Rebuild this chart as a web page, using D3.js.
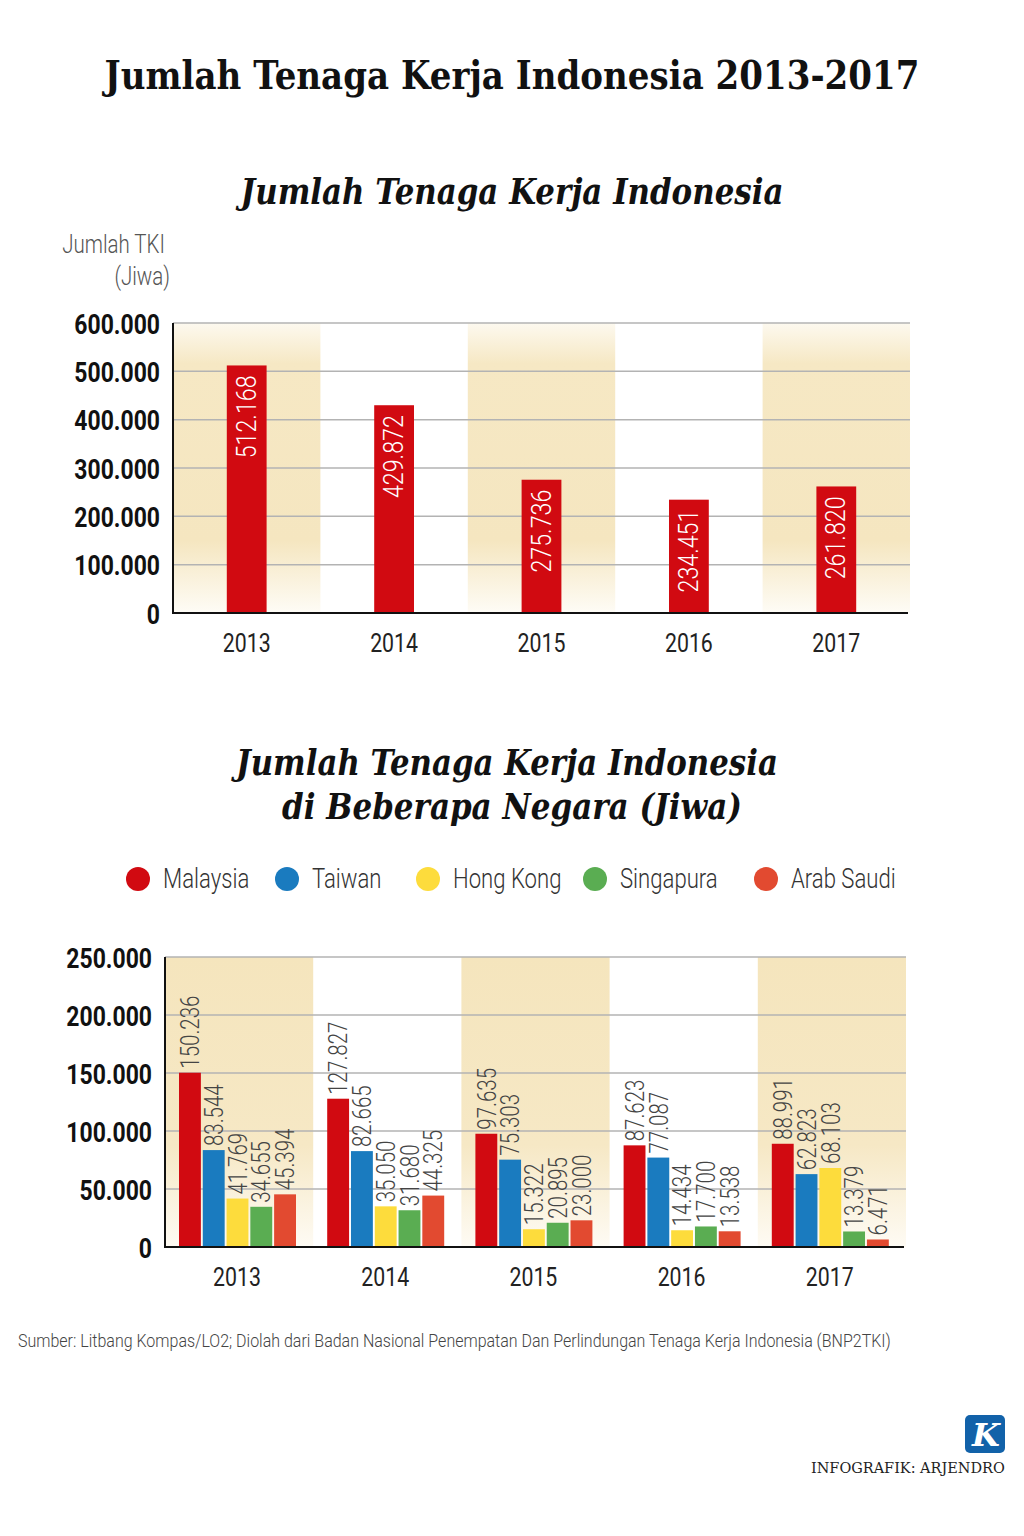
<!DOCTYPE html>
<html><head><meta charset="utf-8">
<script src="https://cdn.jsdelivr.net/npm/d3@7"></script>
<style>
html,body{margin:0;padding:0;background:#fff;}
svg{display:block;}
</style></head>
<body>
<svg id="chart" width="1024" height="1536" font-family="Roboto, 'Noto Sans', sans-serif"></svg>
<script>
// ---------- data ----------
const years = ["2013","2014","2015","2016","2017"];
const totalTKI = [512168, 429872, 275736, 234451, 261820];
const totalTicks = [0,100000,200000,300000,400000,500000,600000];

const countries = ["Malaysia","Taiwan","Hong Kong","Singapura","Arab Saudi"];
const malaysia  = [150236,127827,97635,87623,88991];
const taiwan    = [83544,82665,75303,77087,62823];
const hongKong  = [41769,35050,15322,14434,68103];
const singapura = [34655,31680,20895,17700,13379];
const arabSaudi = [45394,44325,23000,13538,6471];
const countryTicks = [0,50000,100000,150000,200000,250000];
const countryColors = ["#d10a11","#1a7bbf","#fddc3c","#5aad52","#e24a30"];

const title = "Jumlah Tenaga Kerja Indonesia 2013-2017";
const subtitle1 = "Jumlah Tenaga Kerja Indonesia";
const subtitle2a = "Jumlah Tenaga Kerja Indonesia";
const subtitle2b = "di Beberapa Negara (Jiwa)";
const source = "Sumber: Litbang Kompas/LO2; Diolah dari Badan Nasional Penempatan Dan Perlindungan Tenaga Kerja Indonesia (BNP2TKI)";
const credit = "INFOGRAFIK: ARJENDRO";

const seriesByCountry = [malaysia, taiwan, hongKong, singapura, arabSaudi];

// ---------- helpers ----------
const loc = d3.formatLocale({decimal:",", thousands:".", grouping:[3], currency:["",""]});
const fmt = loc.format(",d");
const SX = 0.82; // horizontal condense factor
const SERIF = "'DejaVu Serif', 'Liberation Serif', serif";
const svg = d3.select("#chart");
const defs = svg.append("defs");

function gradient(id, stops){
  const g = defs.append("linearGradient").attr("id",id).attr("x1",0).attr("y1",0).attr("x2",0).attr("y2",1);
  stops.forEach(s=>g.append("stop").attr("offset",s[0]).attr("stop-color",s[1]));
}
gradient("bandTop",[["0%","#fdf9ef"],["14%","#f6e8c4"],["75%","#f5e6c0"],["100%","#fefcf6"]]);
gradient("bandBot",[["0%","#f5e5bd"],["65%","#f6e8c5"],["100%","#fefbf4"]]);

function ctext(parent, x, y, str, opts){
  const g = parent.append("g").attr("transform",`translate(${x},${y})${opts.rotate?` rotate(${opts.rotate})`:""} scale(${opts.sx||SX},1)`);
  return g.append("text").attr("x",0).attr("y",0)
    .attr("text-anchor",opts.anchor||"start")
    .attr("font-size",opts.size||22)
    .attr("font-weight",opts.weight||400)
    .attr("fill",opts.fill||"#222")
    .attr("dominant-baseline",opts.baseline||"auto")
    .text(str);
}
// text scaled horizontally to a target width
function fitText(x, y, str, width, o){
  const g = svg.append("g");
  const t = g.append("text").attr("x",0).attr("y",0).attr("text-anchor",o.anchor||"middle")
    .style("font-family",o.family||null).attr("font-weight",o.weight||400)
    .attr("font-style",o.italic?"italic":"normal").attr("font-size",o.size)
    .attr("fill",o.fill||"#111").text(str);
  const w = t.node().getComputedTextLength();
  g.attr("transform",`translate(${x},${y}) scale(${width/w},1)`);
  return t;
}

// ---------- titles ----------
fitText(512,89,title,815,{family:SERIF,weight:700,size:40});
fitText(512,204,subtitle1,543,{family:SERIF,weight:700,size:36,italic:true});
fitText(507,775,subtitle2a,542,{family:SERIF,weight:700,size:36,italic:true});
fitText(512,819,subtitle2b,460,{family:SERIF,weight:700,size:36,italic:true});

// ---------- top chart ----------
const T = {left:173, right:910, top:323, bottom:613};
const xT = d3.scaleBand().domain(years).range([T.left,T.right]);
const xTbar = d3.scaleBand().domain(years).range([T.left,T.right]).paddingInner(0.73).paddingOuter(0.365);
const yT = d3.scaleLinear().domain([0,600000]).range([T.bottom,T.top]);

const gT = svg.append("g");
gT.selectAll("rect.band").data(years.filter((d,i)=>i%2===0)).join("rect")
  .attr("x",d=>xT(d)).attr("y",T.top).attr("width",xT.bandwidth()).attr("height",T.bottom-T.top)
  .attr("fill","url(#bandTop)");
gT.selectAll("line.grid").data(totalTicks.slice(1)).join("line")
  .attr("x1",T.left).attr("x2",T.right).attr("y1",d=>yT(d)).attr("y2",d=>yT(d))
  .attr("stroke","#b3b3b3").attr("stroke-width",1.5);

gT.selectAll("rect.bar").data(years).join("rect")
  .attr("x",d=>xTbar(d)).attr("width",xTbar.bandwidth())
  .attr("y",(d,i)=>yT(totalTKI[i])).attr("height",(d,i)=>T.bottom-yT(totalTKI[i]))
  .attr("fill","#d10a11");

years.forEach((d,i)=>{
  ctext(gT, xTbar(d)+xTbar.bandwidth()/2, yT(totalTKI[i])+10, fmt(totalTKI[i]),
    {rotate:-90, anchor:"end", size:27, weight:300, fill:"#fff", baseline:"central", sx:0.86});
});

// axes
const axTL = gT.append("g").attr("transform",`translate(${T.left},0)`)
  .call(d3.axisLeft(yT).tickValues(totalTicks).tickFormat(fmt).tickSize(0).tickPadding(0));
axTL.select(".domain").remove();
axTL.selectAll("text").attr("font-size",28).attr("font-weight",700).attr("fill","#111")
  .attr("font-family","Roboto, sans-serif")
  .attr("x",-13/SX).attr("dy","0.36em").attr("transform",`scale(${SX},1)`);
gT.append("line").attr("x1",T.left).attr("x2",T.left).attr("y1",T.top).attr("y2",T.bottom+1).attr("stroke","#111").attr("stroke-width",2);
gT.append("line").attr("x1",T.left-1).attr("x2",908).attr("y1",T.bottom).attr("y2",T.bottom).attr("stroke","#111").attr("stroke-width",2);

years.forEach(d=>{
  ctext(gT, xT(d)+xT.bandwidth()/2, 652, d, {anchor:"middle", size:26, weight:400, fill:"#222"});
});

// y-axis title
ctext(svg, 165, 253, "Jumlah TKI", {anchor:"end", size:25, weight:300, fill:"#555"});
ctext(svg, 170, 285, "(Jiwa)", {anchor:"end", size:25, weight:300, fill:"#555"});

// ---------- legend ----------
const legendX = [138, 287, 428, 595, 766];
const gL = svg.append("g");
countries.forEach((c,i)=>{
  gL.append("circle").attr("cx",legendX[i]).attr("cy",879).attr("r",12).attr("fill",countryColors[i]);
  ctext(gL, legendX[i]+25, 888, c, {size:27, weight:300, fill:"#333"});
});

// ---------- bottom chart ----------
const B = {left:165, right:906, top:957, bottom:1247};
const xB = d3.scaleBand().domain(years).range([B.left,B.right]);
const xS = d3.scaleBand().domain(countries).range([14,131]).paddingInner(0.08);
const yB = d3.scaleLinear().domain([0,250000]).range([B.bottom,B.top]);

const gB = svg.append("g");
gB.selectAll("rect.band").data(years.filter((d,i)=>i%2===0)).join("rect")
  .attr("x",d=>xB(d)).attr("y",B.top).attr("width",xB.bandwidth()).attr("height",B.bottom-B.top)
  .attr("fill","url(#bandBot)");
gB.selectAll("line.grid").data(countryTicks.slice(1)).join("line")
  .attr("x1",B.left).attr("x2",B.right).attr("y1",d=>yB(d)).attr("y2",d=>yB(d))
  .attr("stroke","#b3b3b3").attr("stroke-width",1.5);

years.forEach((yr,yi)=>{
  const g = gB.append("g").attr("transform",`translate(${xB(yr)},0)`);
  countries.forEach((c,ci)=>{
    const v = seriesByCountry[ci][yi];
    g.append("rect").attr("x",xS(c)).attr("width",xS.bandwidth())
      .attr("y",yB(v)).attr("height",B.bottom-yB(v)).attr("fill",countryColors[ci]);
    ctext(g, xS(c)+xS.bandwidth()/2+1, yB(v)-4, fmt(v),
      {rotate:-90, anchor:"start", size:25, weight:300, fill:"#444", baseline:"central", sx:0.82});
  });
});

const axBL = gB.append("g").attr("transform",`translate(${B.left},0)`)
  .call(d3.axisLeft(yB).tickValues(countryTicks).tickFormat(fmt).tickSize(0).tickPadding(0));
axBL.select(".domain").remove();
axBL.selectAll("text").attr("font-size",28).attr("font-weight",700).attr("fill","#111")
  .attr("font-family","Roboto, sans-serif")
  .attr("x",-13/SX).attr("dy","0.36em").attr("transform",`scale(${SX},1)`);
gB.append("line").attr("x1",B.left).attr("x2",B.left).attr("y1",B.top).attr("y2",B.bottom+1).attr("stroke","#111").attr("stroke-width",2);
gB.append("line").attr("x1",B.left-1).attr("x2",904).attr("y1",B.bottom).attr("y2",B.bottom).attr("stroke","#111").attr("stroke-width",2);

years.forEach(d=>{
  ctext(gB, xB(d)+72, 1286, d, {anchor:"middle", size:26, weight:400, fill:"#222"});
});

// ---------- footer ----------
fitText(18,1347,source,874,{anchor:"start",size:18,weight:300,fill:"#444"});

svg.append("rect").attr("x",965).attr("y",1415).attr("width",40).attr("height",38).attr("rx",5).attr("fill","#1262a9");
svg.append("text").attr("x",986).attr("y",1446).attr("text-anchor","middle")
  .style("font-family",SERIF).attr("font-style","italic").attr("font-weight",700)
  .attr("font-size",32).attr("fill","#fff").text("K");
fitText(811,1473,credit,194,{anchor:"start",family:SERIF,size:15,fill:"#222"});
</script>
</body></html>
